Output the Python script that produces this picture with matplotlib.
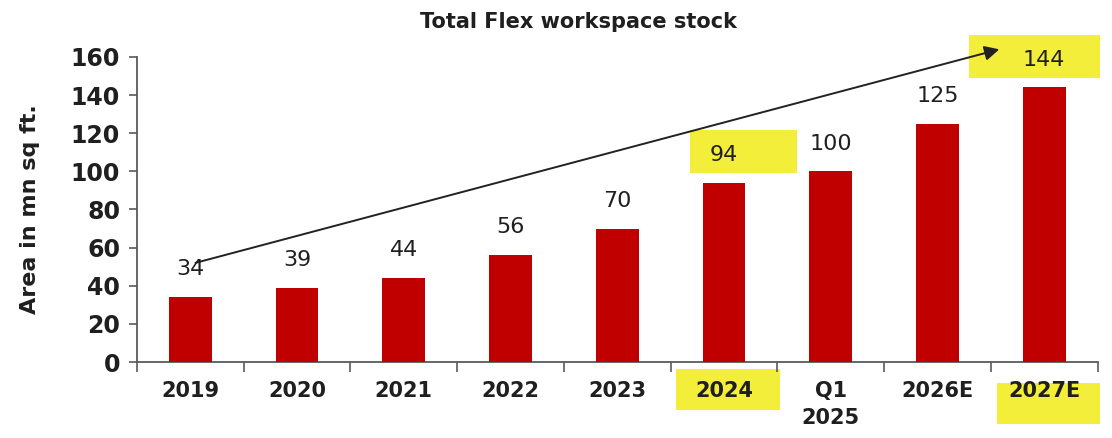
import numpy as np
import matplotlib.pyplot as plt
from matplotlib.patches import Rectangle
from matplotlib.transforms import blended_transform_factory

plt.rcParams['font.family'] = ['DejaVu Sans']

periods = ['2019', '2020', '2021', '2022', '2023', '2024', 'Q1\n2025', '2026E', '2027E']
stock = [34, 39, 44, 56, 70, 94, 100, 125, 144]
highlight_values = [5, 8]      # bars whose value label sits on a yellow box
highlight_labels = [5, 8]      # x labels on a yellow box

BAR_RED = '#C00000'
YELLOW = '#F2EE3A'
TEXT = '#1f1f1f'
AXIS = '#5a5a5a'

fig = plt.figure(figsize=(11.12, 4.38), dpi=100)
ax = fig.add_axes([0.123, 0.1735, 0.864, 0.6965])

x = np.arange(len(periods))
ax.bar(x, stock, width=0.4, color=BAR_RED, zorder=3)

ax.set_xlim(-0.5, len(periods) - 0.5)
ax.set_ylim(0, 160)
ax.set_yticks(np.arange(0, 161, 20))
ax.tick_params(axis='y', labelsize=17, colors=TEXT, length=6, width=1.2, pad=6)
for lbl in ax.get_yticklabels():
    lbl.set_fontweight('bold')

# category labels centred, tick marks on category boundaries
ax.set_xticks(x)
ax.set_xticklabels(periods, fontsize=15, fontweight='bold', color=TEXT, linespacing=1.4)
ax.tick_params(axis='x', length=0, pad=14, colors=TEXT)
ax.set_xticks(np.arange(-0.5, len(periods)), minor=True)
ax.tick_params(axis='x', which='minor', length=7, width=1.2, color=AXIS, direction='out')
ax.tick_params(axis='y', color=AXIS)

for side in ['top', 'right']:
    ax.spines[side].set_visible(False)
for side in ['left', 'bottom']:
    ax.spines[side].set_color(AXIS)
    ax.spines[side].set_linewidth(1.3)

ax.set_ylabel('Area in mn sq ft.', fontsize=16, fontweight='bold', color=TEXT, labelpad=22)
ax.set_title('Total Flex workspace stock', fontsize=15, fontweight='bold', color=TEXT,
             x=0.46, pad=21)

# value labels above bars
for i, v in enumerate(stock):
    ax.annotate(str(v), (i, v), xytext=(0, 20), textcoords='offset points',
                ha='center', va='center', fontsize=16, color=TEXT, zorder=5,
                annotation_clip=False)

# yellow boxes behind highlighted value labels
value_boxes = {5: (-0.32, 1.0), 8: (-0.70, 1.22)}
for i in highlight_values:
    dx, w = value_boxes[i]
    ax.add_patch(Rectangle((i + dx, stock[i] + 5), w, 22.5,
                           facecolor=YELLOW, edgecolor='none', zorder=2, clip_on=False))

# yellow boxes behind highlighted x labels
trans = blended_transform_factory(ax.transData, ax.transAxes)
label_boxes = {5: (-0.45, -0.157, 0.98, 0.134), 8: (-0.44, -0.203, 0.96, 0.134)}
for i in highlight_labels:
    dx, y0, w, h = label_boxes[i]
    ax.add_patch(Rectangle((i + dx, y0), w, h, transform=trans, facecolor=YELLOW,
                           edgecolor='none', zorder=1, clip_on=False))

# growth arrow from the first to the last value
ax.annotate('', xy=(7.58, 164), xytext=(0.05, 52),
            arrowprops=dict(arrowstyle='-|>', color='#222222', lw=1.4,
                            mutation_scale=22, shrinkA=0, shrinkB=0),
            zorder=6, annotation_clip=False)

fig.savefig('out.png', dpi=100)
